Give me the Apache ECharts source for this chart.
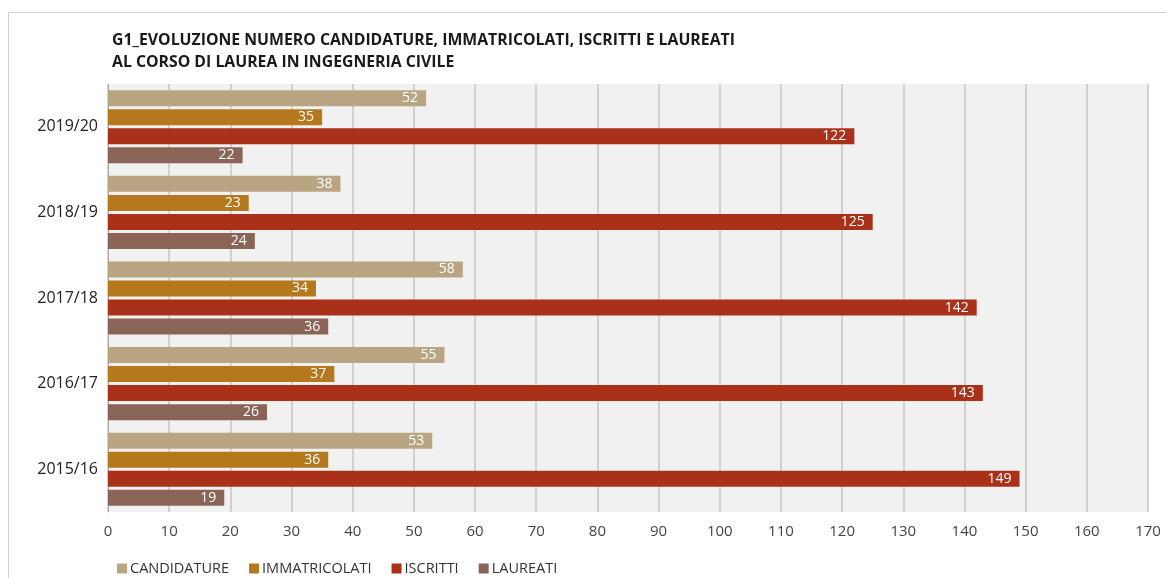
<!DOCTYPE html>
<html><head><meta charset="utf-8">
<script src="https://cdn.jsdelivr.net/npm/echarts@6/dist/echarts.min.js"></script>
<style>html,body{margin:0;padding:0;background:#fff}#c{width:1166px;height:578px}</style>
</head><body><div id="c"></div>
<script>
const categories = ['2015/16','2016/17','2017/18','2018/19','2019/20'];
const candidature = [53,55,58,38,52];
const immatricolati = [36,37,34,23,35];
const iscritti = [149,143,142,125,122];
const laureati = [19,26,36,24,22];
const xTicks = [0,10,20,30,40,50,60,70,80,90,100,110,120,130,140,150,160,170];

const chart = echarts.init(document.getElementById('c'));
const font = 'Open Sans, Noto Sans, sans-serif';
const lbl = {show:true, position:'insideRight', color:'#fff', fontSize:14, fontFamily:font, distance:8};
function s(name, data, color){
  return {name, type:'bar', data, itemStyle:{color}, barWidth:16, barGap:'19%', label:lbl, emphasis:{disabled:true}};
}
chart.setOption({
  animation:false,
  textStyle:{fontFamily:font},
  graphic:[
    {type:'rect', shape:{x:8.5,y:12.5,width:1200,height:600}, style:{fill:'none', stroke:'#d0d0d0', lineWidth:1}, z:-10},
  ],
  title:{
    text:'G1_EVOLUZIONE NUMERO CANDIDATURE, IMMATRICOLATI, ISCRITTI E LAUREATI\nAL CORSO DI LAUREA IN INGEGNERIA CIVILE',
    left:107, top:24,
    textStyle:{fontSize:15.8, fontWeight:'bold', color:'#1a1a1a', fontFamily:font, lineHeight:22}
  },
  legend:{
    data:['CANDIDATURE','IMMATRICOLATI','ISCRITTI','LAUREATI'],
    left:112, top:556, itemWidth:10, itemHeight:10, itemGap:20,
    icon:'rect',
    textStyle:{fontSize:14.5, color:'#333', fontFamily:font, padding:[0,0,0,-2]}
  },
  grid:{left:108, right:18, top:84, bottom:66, containLabel:false, show:true, backgroundColor:'#f1f1f1', borderWidth:0},
  xAxis:{
    type:'value', min:0, max:170, interval:10,
    axisLine:{show:false}, axisTick:{show:false},
    splitLine:{lineStyle:{color:'#c4c4c4', width:1.5}},
    axisLabel:{fontSize:15, color:'#444', margin:12, fontFamily:font,
      formatter:v => xTicks.includes(v) ? String(v) : ''}
  },
  yAxis:{
    type:'category', data:categories,
    axisLine:{show:true, lineStyle:{color:'#aaa'}}, axisTick:{show:false},
    axisLabel:{fontSize:16, color:'#222', margin:10, fontFamily:font}
  },
  series:[
    s('CANDIDATURE', candidature, '#b9a582'),
    s('IMMATRICOLATI', immatricolati, '#b5781c'),
    s('ISCRITTI', iscritti, '#a9311a'),
    s('LAUREATI', laureati, '#8a6457')
  ]
});
</script></body></html>
